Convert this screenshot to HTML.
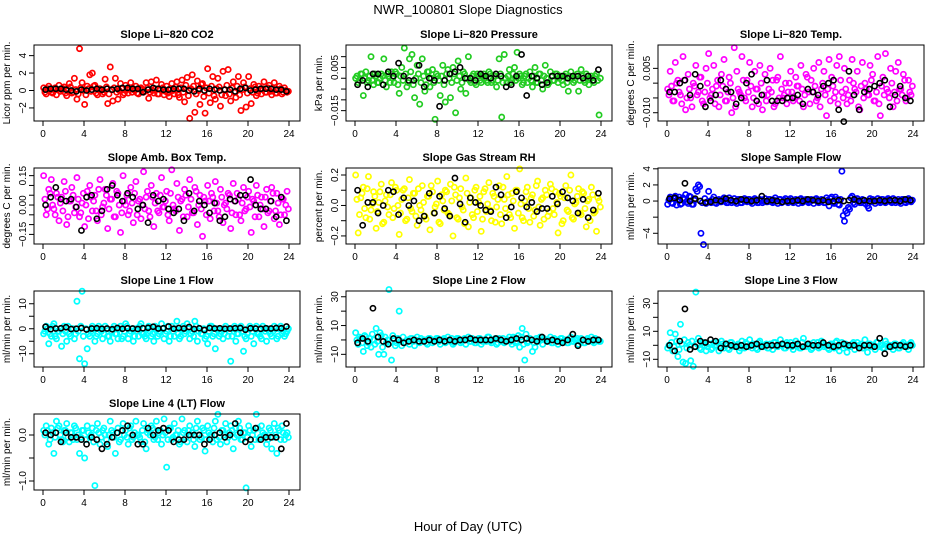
<!DOCTYPE html>
<html><head><meta charset="utf-8">
<style>
html,body{margin:0;padding:0;background:#fff;}
svg{display:block;font-family:"Liberation Sans",Arial,sans-serif;}
</style></head>
<body>
<svg id="chart" width="936" height="540" viewBox="0 0 936 540" xmlns="http://www.w3.org/2000/svg">
<rect width="936" height="540" fill="#fff"/>
<text x="468" y="14" text-anchor="middle" font-size="13">NWR_100801  Slope Diagnostics</text>
<text x="468" y="531" text-anchor="middle" font-size="13">Hour of Day (UTC)</text>
</svg>
<script>
const xTicks=[0,4,8,12,16,20,24];
const co2C=[0.3,-0.4,0.5,-0.2,0.2,-0.5,0.6,0.1,0.4,-0.6,0.8,-0.3,1.4,-1.0,4.8,0.9,-1.6,0.5,1.8,2.0,0.6,-0.5,0.2,-0.4,1.3,-1.5,2.7,-1.2,1.4,-1.0,0.8,-0.5,0.6,-0.3,0.9,0.2,0.5,-0.4,0.3,-0.2,0.9,-0.9,1.0,-0.3,1.2,-0.4,0.7,-0.5,0.5,-0.7,0.8,-0.4,1.0,-0.8,1.2,-1.3,1.5,-3.2,1.8,-2.5,1.1,-1.6,0.8,-2.6,2.5,-1.4,1.6,-1.0,1.4,-1.8,2.2,-0.6,2.4,-1.2,1.0,-0.8,1.6,-2.3,0.9,-1.9,1.6,-1.5,0.7,-0.6,0.5,-0.4,1.0,-0.2,0.6,-0.5,0.9,-0.3,0.5,-0.4,0.3,-0.2];
const co2B=[-0.2,0.2,0.0,-0.3,0.3,0.1,-0.1,0.2,-0.3,0.0,0.4,-0.2,0.1,-0.4,0.3,0.0,-0.5,0.2,-0.1,0.5,-0.3,0.1,0.0,-0.2,0.4,-0.4,0.1,0.3,-0.2,0.0,0.2,-0.3,0.1,0.3,-0.2,0.0,-0.3,0.2,0.1,-0.1,0.3,-0.2,0.0,0.2,-0.4,0.1,0.3,-0.1,-0.3,0.2,0.0,0.4,-0.5,0.3,-0.2,0.6,-0.6,0.2,0.5,-0.4,0.0,0.7,-0.7,0.3,-0.3,0.5,-0.6,0.2,0.4,-0.5,0.1,0.6,-0.4,0.3,-0.2,0.5,-0.5,0.1,0.4,-0.3,0.2,-0.2,0.4,-0.3,0.1,0.2,-0.2,0.3,-0.1,0.2,-0.3,0.1,0.2,-0.2,0.0,-0.1];
const co2K=[0.1,0.2,0.2,0.2,0.1,0.0,-0.1,0.1,0.0,0.1,0.2,0.1,0.2,0.1,0.2,0.3,0.3,0.2,0.2,-0.2,0.1,0.3,0.2,0.1,0.1,0.2,0.2,0.2,0.0,-0.1,0.2,0.0,0.2,0.1,0.0,0.1,0.1,-0.1,0.2,0.3,0.0,0.1,0.2,0.2,0.2,0.1,0.1,-0.1];
const pressC=[0.000,-0.002,0.002,-0.008,0.003,-0.001,0.010,-0.003,0.001,-0.002,0.002,0.009,-0.004,0.001,0.003,-0.002,0.002,-0.007,0.005,0.014,-0.004,0.009,0.011,-0.009,0.006,-0.012,0.009,-0.006,0.003,-0.004,0.004,-0.019,0.001,-0.008,0.006,-0.011,0.004,-0.009,0.005,-0.016,0.008,-0.005,0.003,-0.007,0.010,-0.002,0.002,-0.003,0.001,-0.002,0.002,-0.001,0.003,-0.002,0.001,-0.004,0.009,-0.018,0.011,-0.002,0.004,-0.001,0.005,0.012,0.002,-0.003,0.001,-0.002,0.003,-0.004,0.005,-0.002,0.002,-0.005,0.006,-0.003,0.003,-0.001,0.002,-0.002,0.001,-0.003,0.002,-0.006,0.003,-0.002,0.001,-0.006,0.004,-0.001,0.002,-0.003,0.001,-0.002,0.002,-0.017];
const pressB=[0.001,-0.001,0.002,0.000,-0.002,0.001,-0.001,0.002,-0.002,0.000,0.001,-0.001,0.002,-0.002,0.000,0.003,-0.003,0.001,-0.001,0.002,-0.002,0.003,-0.003,0.000,0.002,-0.002,0.001,-0.003,0.003,0.000,-0.002,0.002,-0.001,0.001,-0.003,0.002,0.000,-0.002,0.002,-0.001,0.001,-0.002,0.002,0.000,-0.001,0.001,-0.002,0.002,-0.001,0.001,0.000,-0.002,0.002,-0.001,0.001,-0.001,0.002,-0.002,0.000,0.001,-0.002,0.002,-0.001,0.000,0.001,-0.002,0.002,0.000,-0.001,0.001,-0.002,0.002,-0.001,0.001,0.000,-0.002,0.001,-0.001,0.002,0.000,-0.001,0.001,-0.002,0.001,0.000,-0.001,0.002,-0.001,0.001,-0.002,0.001,0.000,-0.001,0.001,-0.001,0.000];
const pressK=[-0.003,-0.001,-0.004,0.002,0.002,-0.003,0.003,0.001,0.007,0.001,-0.001,-0.001,0.006,-0.004,0.000,-0.001,-0.013,-0.001,0.002,0.003,0.005,0.000,0.000,-0.001,0.002,0.001,0.000,0.002,0.001,-0.004,-0.003,0.001,0.011,-0.008,0.001,0.000,-0.003,-0.002,0.001,0.001,0.001,0.000,0.001,0.001,0.000,0.001,-0.001,0.004];
const tempC=[-0.002,0.004,-0.006,0.007,0.001,-0.004,0.009,-0.009,0.003,-0.005,0.000,0.006,-0.003,0.002,-0.007,0.005,0.010,-0.004,0.006,-0.001,-0.008,0.003,0.008,-0.006,0.002,-0.010,0.012,0.004,-0.003,0.009,-0.005,0.001,0.007,-0.008,0.004,-0.002,0.006,-0.009,0.003,-0.004,0.005,0.001,-0.007,0.002,0.009,-0.005,0.000,-0.003,0.004,-0.006,0.002,-0.001,0.006,-0.008,0.003,-0.003,0.001,0.005,-0.006,0.007,-0.002,0.004,-0.011,0.008,0.002,-0.005,0.006,0.009,-0.003,0.005,-0.007,0.001,0.008,-0.002,0.004,-0.009,0.007,0.000,-0.004,0.006,0.003,-0.006,0.009,-0.011,0.002,0.010,-0.003,0.005,-0.008,0.004,0.007,-0.002,0.003,-0.006,0.001,-0.004];
const tempB=[-0.004,-0.001,-0.006,0.000,-0.003,-0.007,0.001,-0.005,-0.002,-0.008,-0.001,-0.004,0.002,-0.006,-0.003,0.000,-0.005,-0.002,-0.007,0.001,-0.004,-0.001,-0.006,-0.003,0.000,-0.005,-0.008,-0.002,-0.004,0.001,-0.006,-0.003,-0.001,-0.005,-0.002,-0.007,0.000,-0.004,-0.006,-0.002,-0.003,-0.008,0.001,-0.005,-0.002,-0.004,-0.007,0.000,-0.003,-0.005,-0.001,-0.006,-0.002,-0.004,0.002,-0.007,-0.003,-0.001,-0.005,-0.008,0.000,-0.004,-0.002,-0.006,-0.001,-0.003,-0.007,0.001,-0.005,-0.002,-0.004,-0.006,0.000,-0.003,-0.008,-0.001,-0.005,-0.002,-0.004,0.001,-0.006,-0.003,-0.007,-0.001,-0.004,-0.002,-0.005,0.000,-0.003,-0.006,-0.002,-0.004,0.001,-0.005,-0.003,-0.001];
const tempK=[-0.003,-0.003,0.000,0.001,-0.004,0.003,-0.001,-0.008,-0.006,-0.004,0.001,-0.002,-0.003,-0.007,-0.005,0.000,0.003,-0.006,-0.004,0.001,-0.006,-0.006,-0.006,-0.005,-0.005,-0.004,-0.007,-0.002,-0.003,-0.004,-0.001,0.000,0.001,-0.009,-0.013,0.004,-0.004,-0.009,-0.003,-0.002,-0.001,0.000,0.001,-0.008,-0.004,-0.001,-0.005,-0.006];
const ambC=[0.15,-0.05,0.08,0.13,-0.02,0.06,-0.08,0.04,0.12,-0.10,0.02,0.09,-0.04,0.14,-0.06,0.01,-0.11,0.07,0.10,-0.03,0.05,-0.08,0.13,-0.01,0.08,-0.12,0.03,0.11,-0.06,0.06,-0.14,0.15,0.00,-0.05,0.09,-0.09,0.12,0.02,-0.07,0.17,0.04,-0.03,0.10,-0.11,0.06,-0.04,0.14,-0.01,0.07,-0.08,0.18,-0.02,0.11,-0.13,0.03,0.08,-0.06,0.13,-0.04,0.09,-0.10,0.05,-0.16,0.02,0.10,-0.07,0.04,0.12,-0.03,0.08,-0.09,0.01,0.06,-0.12,0.11,-0.05,0.03,-0.08,0.09,-0.02,0.07,-0.14,0.02,0.10,-0.06,0.04,-0.11,0.08,-0.03,0.09,-0.07,0.06,-0.10,0.03,-0.05,0.07];
const ambB=[0.03,-0.02,0.06,0.00,-0.05,0.04,0.01,-0.03,0.07,-0.06,0.02,0.05,-0.01,0.03,-0.04,0.06,0.00,-0.07,0.04,0.02,-0.03,0.08,-0.05,0.01,0.05,-0.02,0.03,-0.06,0.07,0.00,-0.04,0.02,0.05,-0.03,0.01,0.06,-0.05,0.03,0.00,-0.02,0.07,-0.06,0.04,0.01,-0.03,0.05,-0.01,0.02,-0.05,0.06,0.00,-0.03,0.04,0.02,-0.06,0.05,-0.01,0.03,-0.04,0.07,0.00,-0.02,0.04,-0.05,0.02,0.06,-0.03,0.01,-0.06,0.04,0.00,-0.02,0.05,-0.04,0.02,0.06,-0.05,0.01,-0.03,0.04,-0.01,0.03,-0.06,0.05,0.00,-0.02,0.04,-0.04,0.02,0.06,-0.03,0.01,-0.05,0.03,0.00,-0.02];
const ambK=[0.00,0.04,0.09,0.03,0.02,0.03,-0.01,-0.13,0.04,0.05,-0.07,-0.03,0.08,0.10,0.05,0.02,0.06,0.04,-0.02,0.00,-0.09,0.05,0.02,0.03,-0.02,-0.04,-0.02,-0.08,0.06,-0.03,0.02,0.00,-0.04,0.01,-0.08,-0.06,0.03,0.02,0.05,0.05,0.13,0.00,-0.02,-0.02,0.02,-0.06,0.04,-0.08];
const rhC=[0.20,-0.18,0.05,0.12,-0.08,0.19,-0.03,0.09,-0.15,0.02,0.14,-0.11,0.07,-0.06,0.15,-0.02,0.10,-0.19,0.04,0.11,-0.09,0.17,-0.04,0.08,-0.13,0.00,0.13,-0.07,0.06,-0.16,0.09,-0.01,0.16,-0.12,0.03,0.10,-0.05,0.14,-0.20,0.07,-0.09,0.11,-0.03,0.18,-0.14,0.05,-0.08,0.12,0.02,-0.17,0.09,-0.04,0.15,-0.10,0.06,-0.01,0.13,-0.12,0.04,0.19,-0.06,0.08,-0.15,0.10,0.24,-0.08,0.03,0.12,-0.11,0.07,-0.03,0.16,-0.13,0.05,0.10,-0.07,0.14,-0.02,0.09,-0.18,0.06,-0.10,0.13,-0.04,0.20,-0.09,0.02,0.11,-0.06,0.08,-0.14,0.04,0.12,-0.05,-0.17,0.03];
const rhB=[0.04,-0.06,0.08,-0.02,0.11,-0.09,0.01,0.06,-0.04,0.09,-0.12,0.03,-0.01,0.07,-0.08,0.12,0.00,-0.05,0.10,-0.10,0.05,-0.02,0.08,-0.07,0.11,-0.03,0.02,-0.09,0.06,0.13,-0.05,0.01,-0.11,0.07,-0.03,0.09,-0.06,0.03,0.12,-0.08,0.05,-0.01,-0.12,0.08,0.02,-0.06,0.10,-0.04,0.06,-0.09,0.11,0.01,-0.03,0.08,-0.11,0.04,-0.06,0.12,-0.02,0.07,-0.08,0.03,0.10,-0.05,0.01,-0.10,0.09,-0.02,0.05,-0.07,0.13,-0.01,0.04,-0.09,0.07,-0.04,0.11,-0.06,0.02,0.08,-0.12,0.05,-0.03,0.10,-0.08,0.01,0.06,-0.05,0.09,-0.02,0.03,-0.10,0.07,-0.04,0.05,-0.01];
const rhK=[0.10,-0.13,0.02,0.02,-0.05,0.00,0.10,0.09,-0.06,0.05,0.00,0.03,-0.10,-0.07,0.08,-0.05,0.06,-0.02,-0.07,0.18,0.01,-0.11,0.05,0.02,0.00,-0.03,-0.04,0.12,0.07,-0.08,-0.01,0.09,0.05,-0.01,0.02,-0.04,-0.02,-0.02,0.06,0.01,0.09,0.05,0.03,-0.05,0.04,-0.08,-0.03,0.08];
const sfC=[-0.4,0.5,-0.3,0.6,0.2,-0.4,0.4,0.8,-0.3,0.5,-0.4,1.5,2.0,-4.0,-5.4,-0.3,1.2,-0.2,0.5,-0.3,0.2,-0.1,0.4,-0.2,0.4,-0.2,0.3,-0.3,0.2,-0.2,0.3,-0.1,0.2,-0.3,0.3,-0.2,0.2,-0.2,0.3,-0.1,0.2,-0.2,0.4,-0.3,0.2,-0.1,0.3,-0.2,0.3,-0.2,0.2,-0.3,0.3,-0.1,0.2,-0.2,0.2,-0.3,0.3,-0.2,0.2,-0.2,0.4,-0.6,0.5,-0.3,0.2,-0.5,3.7,-2.5,-1.5,-1.0,0.6,-0.4,0.3,-0.2,0.2,-0.3,-0.6,0.3,0.2,-0.3,0.3,-0.2,0.2,-0.2,0.3,-0.1,0.3,-0.2,0.2,-0.3,0.2,-0.2,0.3,-0.1];
const sfB=[0.1,-0.2,0.3,-0.5,0.5,-0.3,0.2,-0.1,0.6,-0.4,0.1,1.2,1.8,-0.2,0.3,-0.1,0.0,0.2,-0.2,0.1,-0.1,0.2,0.0,-0.2,0.1,0.0,-0.1,0.2,-0.2,0.1,0.0,0.2,-0.1,0.1,0.0,-0.2,0.1,0.0,-0.1,0.2,-0.1,0.1,0.0,0.2,-0.2,0.1,0.0,0.1,-0.1,0.1,0.0,0.2,-0.2,0.1,0.0,-0.1,0.1,0.2,-0.1,0.0,0.1,-0.2,0.1,0.3,-0.2,0.5,-0.4,0.2,-1.8,-1.2,-0.8,0.4,-0.2,0.1,0.0,-0.2,0.1,0.0,-0.9,-0.1,0.1,0.0,-0.1,0.2,-0.1,0.1,0.0,-0.2,0.1,0.0,-0.1,0.2,-0.1,0.1,0.0,0.1];
const sfK=[0.3,0.4,0.1,2.2,0.0,0.3,0.0,-0.2,-0.1,0.1,0.0,0.3,0.1,0.0,0.2,0.1,0.0,0.1,0.6,0.0,0.1,0.0,-0.1,0.0,0.0,0.1,0.0,0.2,0.1,0.0,0.1,-0.1,0.0,0.1,0.0,0.1,0.2,0.0,0.1,0.0,0.0,0.1,0.0,0.1,0.1,0.0,0.2,0.1];
const l1C=[-2,1,-6,-3,2,-4,-1,-7,1,-5,-2,0,-4,11,-12,15,-14,-8,-3,1,-5,-2,0,-4,1,-3,-5,0,-2,-4,1,-3,2,-4,-1,-5,0,-3,2,-2,-4,1,-3,-5,0,-2,2,-4,-1,-5,1,-3,3,-4,0,-2,2,-4,-1,3,-5,0,-2,-4,-6,1,-3,-8,0,-2,-4,1,-3,-13,0,-5,-2,1,-9,-4,0,-3,-6,1,-2,-4,0,-5,-1,-3,1,-4,0,-2,-3,-1];
const l1B=[-1,0,-2,1,-3,-1,0,-2,-1,1,-3,0,-2,-1,1,-3,0,-2,-1,0,-3,1,-1,-2,0,-3,-1,1,-2,0,-4,-1,1,-2,0,-3,-1,1,-2,-3,0,-1,-2,1,-3,-1,0,-2,1,-3,-1,0,-2,-3,1,-1,0,-2,-3,1,-1,-2,0,-3,-1,1,-2,0,-3,-1,-2,0,-1,-3,1,-2,0,-1,-3,-2,1,-1,0,-2,-3,1,-1,0,-2,-1,0,-3,1,-1,-2,0];
const l1K=[0.8,-0.2,0.1,0.2,0.6,-0.1,0.0,0.3,-0.3,0.1,0.2,0.0,0.1,-0.2,0.3,0.0,0.2,0.1,-0.1,0.2,0.4,0.8,0.1,0.2,0.9,0.0,0.3,0.1,0.7,-0.1,0.2,-0.5,0.3,0.1,0.2,0.0,0.1,0.2,0.3,-0.4,0.2,0.1,0.0,0.2,0.1,0.3,0.2,0.9];
const l2C=[5,-3,1,-8,2,-2,-5,0,8,-10,3,-10,-2,35,-14,1,-2,20,-4,38,0,-3,1,-4,2,-2,-1,0,-3,1,-2,0,1,-3,0,-2,2,-1,-3,0,1,-2,0,-3,2,-1,0,-2,1,-3,0,-1,2,-2,0,-3,1,-1,-2,0,2,-3,1,-1,-5,8,-14,-2,1,-8,-5,0,2,-3,0,-1,2,-2,0,-3,1,-1,0,-2,2,-1,0,-3,1,-2,0,-1,2,-2,0,-1];
const l2B=[0,2,-2,3,-4,1,4,-3,-1,5,-5,2,0,-2,3,-4,1,-1,2,-2,0,1,-1,0,-1,1,0,-2,1,0,-1,1,-1,0,1,-1,0,1,-2,1,0,-1,1,0,-1,1,-2,0,1,-1,0,2,-1,0,1,-2,0,1,-1,0,-1,2,-2,3,2,-3,4,-1,0,-2,1,-1,0,1,-1,0,-2,1,0,-1,1,0,-2,1,-1,0,1,-1,0,-2,1,0,-1,1,0,-1];
const l2K=[-2,1,-1,22,2,-1,-3,1,0,-2,-1,0,-1,-1,0,-1,0,-1,0,-1,0,0,1,0,0,0,0,1,0,-1,0,1,0,1,0,-1,2,-1,0,-1,-2,0,4,-4,0,-1,0,0];
const l3C=[-2,9,-4,8,-8,15,-12,-13,2,-11,-15,38,5,-3,2,-4,1,-3,2,0,-4,3,-2,1,-3,2,-1,0,-4,3,-2,1,4,-2,0,-3,3,-1,0,-2,1,-3,2,-1,4,0,-2,1,2,-3,3,0,-2,5,-1,1,-3,2,0,-2,3,-1,0,-3,1,-2,3,-4,2,0,-5,-1,1,-3,2,0,-2,4,-5,1,-1,-3,2,0,-2,3,-1,0,-3,1,-2,0,2,-1,-3,2];
const l3B=[0,2,-1,3,-3,1,4,-2,0,3,-1,1,-2,2,0,-1,1,-2,0,2,-1,1,0,-2,2,0,-1,1,-2,0,2,-1,0,1,-2,2,0,-1,1,-2,0,2,-1,0,1,-2,2,0,-1,1,0,-2,2,-1,0,1,-2,0,2,-1,1,0,-2,1,0,2,-1,0,-2,1,0,-1,2,0,-1,1,-2,0,1,-1,0,2,-1,0,-2,1,0,-1,1,0,-2,1,0,-1,1,0];
const l3K=[0,-4,3,26,-3,-1,3,2,4,3,-2,1,0,-1,0,-1,0,1,-1,0,0,0,1,0,0,1,-1,1,0,0,2,0,-1,0,1,0,0,-2,0,0,-1,5,-6,-1,0,0,-1,0];
const l4C=[0.1,0.2,-0.2,0.15,-0.4,0.3,0.2,-0.1,0.1,0.25,-0.15,0.05,0.2,-0.1,-0.4,0.1,-0.5,0.2,-0.05,0.15,-1.1,0.25,-0.2,0.1,0.0,-0.25,0.3,0.05,-0.4,0.15,-0.1,0.25,0.1,-0.2,0.2,-0.05,0.3,0.0,-0.15,0.25,-0.3,0.1,0.2,-0.1,0.3,0.05,-0.2,0.35,-0.7,0.15,-0.1,0.25,0.0,-0.2,0.35,0.1,-0.15,0.2,0.05,-0.25,0.3,-0.1,0.15,-0.35,0.2,0.0,-0.15,0.3,0.45,-0.2,0.1,0.25,-0.05,0.2,-0.3,0.15,0.3,-0.1,0.05,-1.15,0.2,-0.25,0.1,0.45,-0.1,0.2,0.0,-0.2,0.15,-0.3,0.25,-0.4,0.1,0.2,-0.1,0.05];
const l4B=[0.0,0.1,-0.1,0.05,-0.05,0.15,0.0,-0.15,0.1,-0.05,0.05,-0.1,0.15,0.0,-0.05,0.1,-0.1,0.05,0.0,-0.15,0.1,0.05,-0.05,0.15,-0.1,0.0,0.1,-0.05,0.05,-0.15,0.1,0.0,-0.05,0.15,-0.1,0.05,0.0,-0.05,0.1,-0.15,0.05,0.0,0.15,-0.05,-0.1,0.1,0.0,0.05,-0.1,0.15,-0.05,0.0,0.1,-0.15,0.05,-0.05,0.1,0.0,-0.1,0.15,0.0,-0.05,0.1,-0.1,0.05,0.0,0.15,-0.1,-0.05,0.1,0.0,-0.15,0.05,0.1,-0.05,0.0,0.15,-0.1,0.05,-0.05,0.1,0.0,-0.1,0.15,-0.05,0.05,0.0,-0.1,0.1,-0.05,0.0,0.15,-0.1,0.05,0.0,-0.05];
const l4K=[0.05,0.0,0.05,-0.15,0.05,-0.05,-0.05,-0.1,-0.2,-0.05,-0.1,-0.3,-0.2,-0.05,0.05,0.1,0.2,0.0,-0.2,-0.2,0.15,0.0,0.1,0.15,0.1,-0.15,-0.1,-0.1,0.0,0.0,0.0,-0.2,-0.1,0.0,0.05,-0.05,0.0,0.25,0.05,-0.15,-0.1,0.15,-0.1,-0.05,-0.05,-0.05,-0.3,0.25];

const panels=[
 {name:'co2',title:'Slope Li\u2212820 CO2',ylab:'Licor ppm per min.',col:0,row:0,ymin:-3.5,ymax:5.22,ticks:[-2,0,2,4],labels:['\u22122','0','2','4'],c:co2C,b:co2B,k:co2K,color:'#ff0000'},
 {name:'pressure',title:'Slope Li\u2212820 Pressure',ylab:'kPa per min.',col:1,row:0,ymin:-0.0198,ymax:0.0154,ticks:[-0.015,-0.01,-0.005,0,0.005,0.01],labels:['\u22120.015','','','','0.005',''],c:pressC,b:pressB,k:pressK,color:'#22cc22'},
 {name:'temp',title:'Slope Li\u2212820 Temp.',ylab:'degrees C per min.',col:2,row:0,ymin:-0.0128,ymax:0.0129,ticks:[-0.01,-0.005,0,0.005],labels:['\u22120.010','','','0.005'],c:tempC,b:tempB,k:tempK,color:'#ff00ff'},
 {name:'amb-box-temp',title:'Slope Amb. Box Temp.',ylab:'degrees C per min.',col:0,row:1,ymin:-0.199,ymax:0.189,ticks:[-0.15,-0.1,-0.05,0,0.05,0.1,0.15],labels:['\u22120.15','','','0.00','','','0.15'],c:ambC,b:ambB,k:ambK,color:'#ff00ff'},
 {name:'gas-stream-rh',title:'Slope Gas Stream RH',ylab:'percent per min.',col:1,row:1,ymin:-0.253,ymax:0.246,ticks:[-0.2,-0.1,0,0.1,0.2],labels:['\u22120.2','','0.0','','0.2'],c:rhC,b:rhB,k:rhK,color:'#ffff00'},
 {name:'sample-flow',title:'Slope Sample Flow',ylab:'ml/min per min.',col:2,row:1,ymin:-5.33,ymax:4.1,ticks:[-4,-2,0,2,4],labels:['\u22124','','0','2','4'],c:sfC,b:sfB,k:sfK,color:'#0000ff'},
 {name:'line1-flow',title:'Slope Line 1 Flow',ylab:'ml/min per min.',col:0,row:2,ymin:-15.3,ymax:15.1,ticks:[-10,-5,0,5,10],labels:['\u221210','','0','','10'],c:l1C,b:l1B,k:l1K,color:'#00ffff'},
 {name:'line2-flow',title:'Slope Line 2 Flow',ylab:'ml/min per min.',col:1,row:2,ymin:-18.8,ymax:34,ticks:[-10,0,10,20,30],labels:['\u221210','','10','','30'],c:l2C,b:l2B,k:l2K,color:'#00ffff'},
 {name:'line3-flow',title:'Slope Line 3 Flow',ylab:'ml/min per min.',col:2,row:2,ymin:-15.5,ymax:38.8,ticks:[-10,0,10,20,30],labels:['\u221210','','10','','30'],c:l3C,b:l3B,k:l3K,color:'#00ffff'},
 {name:'line4-flow',title:'Slope Line 4 (LT) Flow',ylab:'ml/min per min.',col:0,row:3,ymin:-1.196,ymax:0.457,ticks:[-1,-0.5,0],labels:['\u22121.0','','0.0'],c:l4C,b:l4B,k:l4K,color:'#00ffff'}
];
const NS='http://www.w3.org/2000/svg';
const svg=document.getElementById('chart');
function mk(tag,attrs,parent){const e=document.createElementNS(NS,tag);for(const a in attrs)e.setAttribute(a,attrs[a]);(parent||svg).appendChild(e);return e;}
const colX=[34,346,658], rowY=[45,168,291,414], W=266, H=76;
panels.forEach(p=>{
 const bx=colX[p.col], by=rowY[p.row];
 const g=mk('g',{});
 
 
 const xs=h=>bx+9+h*(246/24);
 const ys=v=>by+H-(v-p.ymin)/(p.ymax-p.ymin)*H;
 const t=mk('text',{x:bx+W/2,y:by-7,'text-anchor':'middle','font-size':'11','font-weight':'bold'},g);
 t.textContent=p.title;
 
 
 const yl=mk('text',{x:0,y:0,transform:`translate(${bx-24},${by+H/2}) rotate(-90)`,'text-anchor':'middle','font-size':'10'},g);
 yl.textContent=p.ylab;
 
 
 const pts=mk('g',{fill:'none'},g);
 
 
 [p.c,p.b].forEach((arr,j)=>{
  arr.forEach((v,i)=>{
   const h=(i+0.25+0.5*j)*24/arr.length;
   const y=ys(v); if(y<by-4||y>by+H+4)return;
   const c=mk('circle',{cx:xs(h),cy:y,r:2.6,stroke:p.color,'stroke-width':1.7},pts);
   
   
  });
 });
 const kp=mk('g',{fill:'none'},g);
 
 
 p.k.forEach((v,i)=>{
  const h=(i+0.5)*24/p.k.length;
  const c=mk('circle',{cx:xs(h),cy:ys(v),r:2.6,stroke:'#000','stroke-width':1.6},kp);
  
  
 });
 const box=mk('rect',{x:bx,y:by,width:W,height:H,fill:'none',stroke:'#000','stroke-width':1},g);
 
 
 xTicks.forEach(h=>{
  mk('line',{x1:xs(h),x2:xs(h),y1:by+H,y2:by+H+5,stroke:'#000'},g);
  const tl=mk('text',{x:xs(h),y:by+H+16,'text-anchor':'middle','font-size':'10'},g);
  tl.textContent=h;
  
  
 });
 p.ticks.forEach((v,i)=>{
  const y=ys(v);
  mk('line',{x1:bx-5,x2:bx,y1:y,y2:y,stroke:'#000'},g);
  if(p.labels[i]){
   const tl=mk('text',{x:0,y:0,transform:`translate(${bx-8},${y}) rotate(-90)`,'text-anchor':'middle','font-size':'10'},g);
   tl.textContent=p.labels[i];
   
   
  }
 });
});
</script>
</body></html>
